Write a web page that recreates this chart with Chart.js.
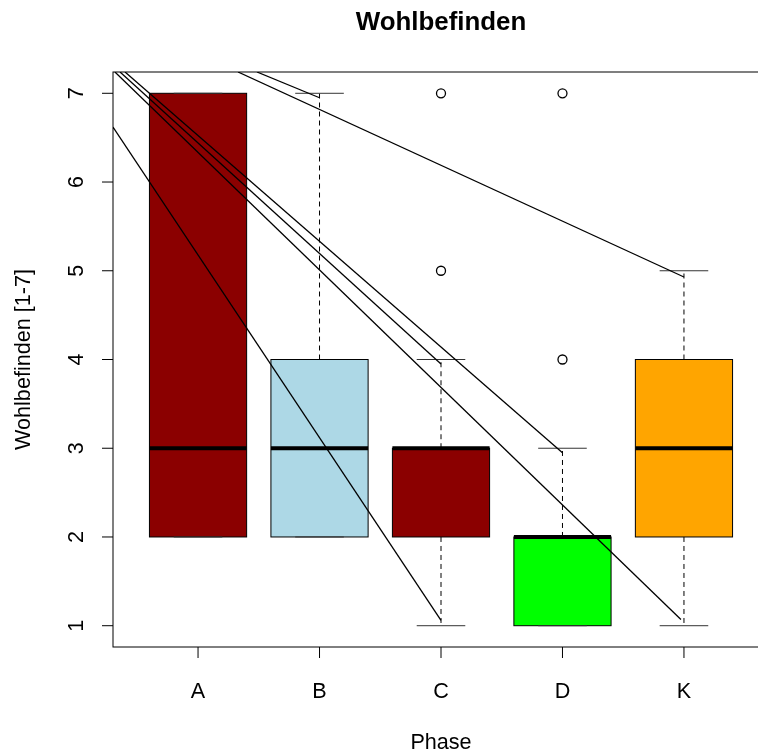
<!DOCTYPE html>
<html>
<head>
<meta charset="utf-8">
<script src="https://cdn.jsdelivr.net/npm/chart.js@4"></script>
<style>
  html, body { margin: 0; padding: 0; background: #fff; overflow: hidden; }
  #wrap { width: 758px; height: 755px; overflow: hidden; }
  canvas { display: block; }
</style>
</head>
<body>
<div id="wrap"><canvas id="grafico" width="800" height="755"></canvas></div>
<script>
// Werte
const phases = ["A", "B", "C", "D", "K"];
const yTicks = [1, 2, 3, 4, 5, 6, 7];
const whiskerLow = [2, 2, 1, 1, 1];
const q1 = [2, 2, 2, 1, 2];
const medians = [3, 3, 3, 2, 3];
const q3 = [7, 4, 3, 2, 4];
const whiskerHigh = [7, 7, 4, 3, 5];
const outlierX = [3, 3, 4, 4];
const outlierY = [5, 7, 4, 7];
const boxColors = ["#8B0000", "#ADD8E6", "#8B0000", "#00FF00", "#FFA500"];

// gerade Linien ueber den Boxen (Anfang und Ende in Dateneinheiten)
const lineStartX = [0.30, 0.316, 0.358, 0.399, 1.329, 1.485];
const lineStartY = [6.62, 7.24, 7.24, 7.24, 7.24, 7.24];
const lineEndX = [3, 4.975, 3, 4, 5, 2];
const lineEndY = [1.06, 1.07, 3.95, 2.95, 4.93, 6.95];

const FONT = "'Liberation Sans', Arial, Helvetica, sans-serif";

function seg(ctx, x1, y1, x2, y2) {
  ctx.beginPath();
  ctx.moveTo(x1, y1);
  ctx.lineTo(x2, y2);
  ctx.stroke();
}

// Boxplots, gezeichnet ueber die Skalen des Diagramms
const boxPlugin = {
  id: "boxen",
  beforeDatasetsDraw(chart) {
    const { ctx, scales: { x, y } } = chart;
    ctx.save();
    ctx.strokeStyle = "#000";
    phases.forEach((p, i) => {
      const cx = x.getPixelForValue(i + 1);
      const half = x.getPixelForValue(i + 1.4) - cx;
      const cap = half / 2;
      const yLo = y.getPixelForValue(whiskerLow[i]);
      const yQ1 = y.getPixelForValue(q1[i]);
      const yMed = y.getPixelForValue(medians[i]);
      const yQ3 = y.getPixelForValue(q3[i]);
      const yHi = y.getPixelForValue(whiskerHigh[i]);

      // Box
      ctx.fillStyle = boxColors[i];
      ctx.fillRect(cx - half, yQ3, 2 * half, yQ1 - yQ3);
      ctx.lineWidth = 1;
      ctx.strokeRect(cx - half, yQ3, 2 * half, yQ1 - yQ3);

      // Whisker gestrichelt
      ctx.setLineDash([5, 4]);
      if (yHi < yQ3) seg(ctx, cx, yQ3, cx, yHi);
      if (yLo > yQ1) seg(ctx, cx, yQ1, cx, yLo);
      ctx.setLineDash([]);
      ctx.strokeStyle = "#333";
      seg(ctx, cx - cap, yHi, cx + cap, yHi);
      seg(ctx, cx - cap, yLo, cx + cap, yLo);
      ctx.strokeStyle = "#000";

      // Median
      ctx.lineWidth = 4;
      seg(ctx, cx - half, yMed, cx + half, yMed);
    });
    ctx.restore();
  }
};

// Rahmen, Achsen und Beschriftungen im R-Stil
const axesPlugin = {
  id: "achsen",
  afterDraw(chart) {
    const { ctx, chartArea: a, scales: { x, y } } = chart;
    ctx.save();
    ctx.strokeStyle = "#000";
    ctx.lineWidth = 1;
    ctx.strokeRect(a.left, a.top, a.right - a.left, a.bottom - a.top);

    ctx.fillStyle = "#000";
    ctx.font = "21.6px " + FONT;

    // x-Achse
    ctx.textAlign = "center";
    ctx.textBaseline = "alphabetic";
    phases.forEach((p, i) => {
      const px = x.getPixelForValue(i + 1);
      seg(ctx, px, a.bottom, px, a.bottom + 11);
      ctx.fillText(p, px, 698);
    });

    // y-Achse
    yTicks.forEach(v => {
      const py = y.getPixelForValue(v);
      seg(ctx, a.left, py, a.left - 11, py);
      ctx.save();
      ctx.translate(83, py);
      ctx.rotate(-Math.PI / 2);
      ctx.fillText(String(v), 0, 0);
      ctx.restore();
    });

    // Achsentitel
    const midX = (a.left + a.right) / 2;
    const midY = (a.top + a.bottom) / 2;
    ctx.fillText("Phase", midX, 749);
    ctx.save();
    ctx.translate(30, midY);
    ctx.rotate(-Math.PI / 2);
    ctx.fillText("Wohlbefinden [1-7]", 0, 0);
    ctx.restore();

    // Titel
    ctx.font = "bold 25.9px " + FONT;
    ctx.fillText("Wohlbefinden", midX, 30);
    ctx.restore();
  }
};

const lineSets = lineStartX.map((sx, i) => ({
  type: "scatter",
  data: [{ x: sx, y: lineStartY[i] }, { x: lineEndX[i], y: lineEndY[i] }],
  showLine: true,
  borderColor: "#000",
  borderWidth: 1.3,
  pointRadius: 0,
  fill: false
}));

const outlierSet = {
  type: "scatter",
  data: outlierX.map((ox, i) => ({ x: ox, y: outlierY[i] })),
  pointStyle: "circle",
  pointRadius: 4.5,
  borderColor: "#000",
  borderWidth: 1.3,
  backgroundColor: "rgba(0,0,0,0)",
  showLine: false
};

new Chart(document.getElementById("grafico").getContext("2d"), {
  type: "scatter",
  data: { datasets: [...lineSets, outlierSet] },
  options: {
    responsive: false,
    animation: false,
    layout: { padding: { left: 113, top: 72, right: 31, bottom: 108 } },
    plugins: { legend: { display: false }, tooltip: { enabled: false } },
    scales: {
      x: { type: "linear", min: 0.3, max: 5.7, display: false },
      y: { type: "linear", min: 0.76, max: 7.24, display: false }
    }
  },
  plugins: [boxPlugin, axesPlugin]
});
</script>
</body>
</html>
